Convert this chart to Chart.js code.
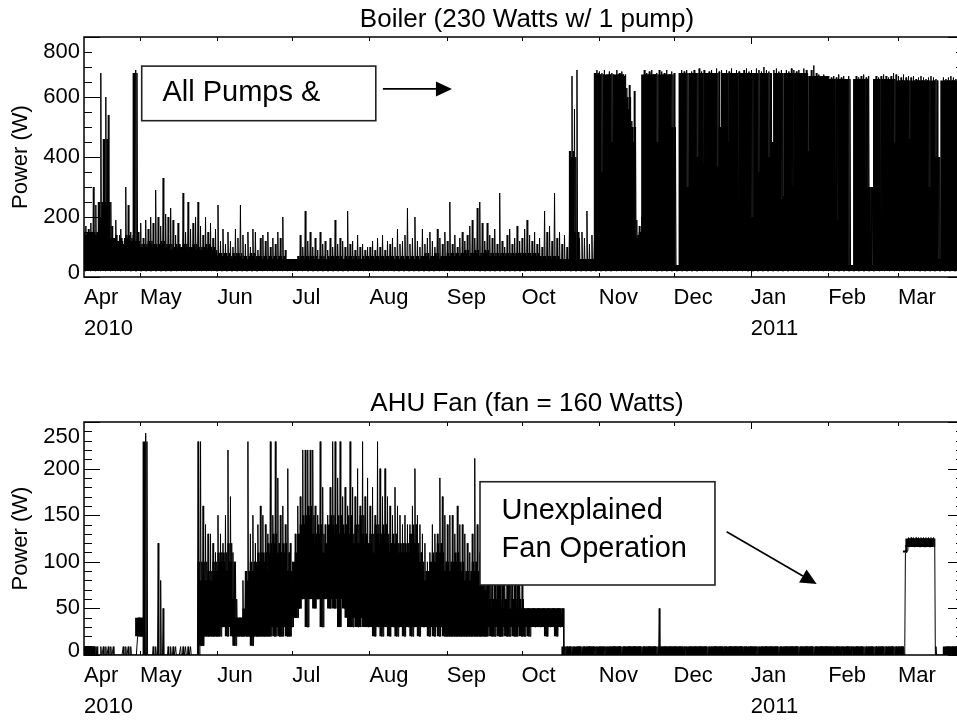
<!DOCTYPE html>
<html>
<head>
<meta charset="utf-8">
<script src="https://cdn.jsdelivr.net/npm/chart.js@4.4.0/dist/chart.umd.min.js"></script>
<style>
  html, body { margin: 0; padding: 0; background: #fff; overflow: hidden; }
  .panel { position: relative; width: 970px; }
  canvas { display: block; }
</style>
</head>
<body>
<div class="panel" style="height:360px"><canvas id="boiler"></canvas></div>
<div class="panel" style="height:361px"><canvas id="fan"></canvas></div>
<script>
// days are counted from 1 Apr 2010; the first sample is 8 Apr 2010
const firstDay = 7;
const monthStarts = [0, 30, 61, 91, 122, 153, 183, 214, 244, 275, 306, 334];
const monthNames = ['Apr', 'May', 'Jun', 'Jul', 'Aug', 'Sep', 'Oct', 'Nov', 'Dec', 'Jan', 'Feb', 'Mar'];
const yearNames = { Apr: '2010', Jan: '2011' };

const boilerTicks = [0, 200, 400, 600, 800];
const fanTicks = [0, 50, 100, 150, 200, 250];

// boiler: lowest level, daily level of the dense cycling, daily peak (W)
const boilerFloor = 20;
const boilerMid = [
  150,150,140,150,150,150,140,250,200,460,250,170,130,120,140,120,130,110,140,130,120,680,120,
  110,100,110,100,120,110,100,110,100,120,110,100,110,90,100,110,90,100,110,100,90,100,110,90,100,90,100,110,90,100,90,
  80,70,80,70,80,70,60,80,70,80,70,60,70,60,80,70,60,70,70,60,70,60,70,60,70,60,70,60,60,60,
  60,60,60,70,60,70,60,70,60,70,60,60,70,60,60,70,60,70,60,70,60,60,70,60,70,60,70,60,60,70,60,
  70,60,70,60,70,60,70,60,70,60,70,60,70,60,70,60,70,60,70,60,70,60,70,80,70,60,70,80,70,60,70,
  70,80,70,80,70,80,70,80,90,80,70,80,90,80,70,80,90,80,70,80,70,80,70,80,70,80,70,80,70,80,
  80,70,80,70,80,70,80,70,70,60,70,60,70,60,70,60,60,60,60,60,420,400,150,60,60,60,60,60,60,60,680,
  675,675,350,675,675,675,450,675,675,675,675,560,600,450,500,140,130,150,675,675,675,675,675,675,450,675,675,675,675,675,
  500,40,40,680,680,680,300,680,680,680,400,680,680,380,680,680,680,680,370,500,680,680,680,450,680,680,680,250,680,680,680,
  680,200,680,680,350,680,680,680,400,450,680,680,680,260,680,680,680,300,680,680,680,680,680,420,670,670,670,670,670,670,670,
  660,660,660,660,190,660,660,660,660,40,40,660,660,660,660,660,300,300,40,660,660,660,210,660,660,660,660,450,
  655,655,655,655,655,460,655,655,655,655,655,655,655,300,655,655,400,60,655,655,655,655,655,655,655,655
];
const boilerPeak = [
  260,170,160,180,300,240,150,680,250,600,540,250,130,190,120,160,110,300,240,150,140,690,150,
  180,130,190,160,200,180,290,200,170,330,210,200,230,190,140,180,100,280,150,250,160,180,200,250,170,140,200,150,180,130,160,
  240,120,160,110,150,120,100,160,130,240,140,110,150,100,160,150,90,130,140,120,150,100,130,110,150,130,200,90,60,60,
  60,60,60,140,100,220,120,150,100,130,90,150,110,120,90,130,100,190,110,130,120,100,220,110,120,90,140,100,110,90,100,
  100,120,90,130,100,140,90,120,110,130,100,160,110,120,140,230,110,130,200,120,100,160,110,130,150,120,100,160,130,110,150,
  120,250,110,140,100,130,150,120,140,170,190,130,230,250,180,120,180,140,130,160,110,280,120,100,140,160,110,130,170,120,
  130,160,190,140,120,150,110,130,100,220,150,170,120,280,130,150,110,140,100,150,670,560,690,130,150,130,220,110,140,120,690,
  685,680,690,675,685,680,670,690,680,685,670,630,640,520,620,190,170,200,690,680,685,690,675,680,690,685,680,690,675,685,
  680,40,40,690,685,690,300,685,690,680,695,685,690,400,685,690,680,695,685,690,680,690,685,695,680,690,685,650,690,695,685,
  690,680,695,690,685,700,690,685,680,690,695,685,690,270,690,685,695,690,685,690,680,695,690,420,690,705,680,675,670,675,670,
  670,665,670,665,675,665,670,660,670,40,40,670,665,670,675,665,670,300,40,670,665,670,675,670,665,670,680,675,
  670,665,675,665,670,665,670,660,665,670,665,660,665,670,665,660,400,60,665,660,665,670,665,660,665,660
];

// AHU fan: daily low, daily level of the dense cycling, daily peak (W)
const fanLo = [
  0,0,0,0,0,0,0,0,0,0,0,0,0,0,0,0,0,0,0,0,0,0,20,
  20,20,0,0,0,0,0,0,0,0,0,0,0,0,0,0,0,0,0,0,0,0,0,0,10,10,20,20,20,20,20,
  20,20,30,30,20,30,20,10,20,20,20,20,20,20,10,20,20,20,20,20,20,20,30,20,30,20,20,30,20,20,
  30,40,40,50,60,60,30,60,60,50,60,60,30,60,60,50,60,50,60,30,60,50,40,30,30,40,30,30,40,30,30,
  30,30,20,30,30,20,30,30,20,30,30,20,30,30,20,30,30,20,30,30,20,30,30,30,20,30,20,30,20,30,20,
  20,20,20,20,20,20,20,20,20,20,20,20,20,20,20,20,20,30,20,20,30,20,20,30,20,20,30,20,20,30,
  20,20,30,20,30,30,30,30,30,30,20,30,30,30,20,30,30,0,0,0,0,0,0,0,0,0,0,0,0,0,0,
  0,0,0,0,0,0,0,0,0,0,0,0,0,0,0,0,0,0,0,0,0,0,0,0,0,0,0,0,0,0,
  0,0,0,0,0,0,0,0,0,0,0,0,0,0,0,0,0,0,0,0,0,0,0,0,0,0,0,0,0,0,0,
  0,0,0,0,0,0,0,0,0,0,0,0,0,0,0,0,0,0,0,0,0,0,0,0,0,0,0,0,0,0,0,
  0,0,0,0,0,0,0,0,0,0,0,0,0,0,0,0,0,0,0,0,0,0,0,0,0,0,0,0,
  0,0,0,110,116,116,116,116,116,116,116,116,116,116,116,0,0,0,0,0,0,0,0,0,0,0
];
const fanMid = [
  9,9,9,9,9,9,0,0,0,0,0,0,0,0,0,0,0,0,0,0,0,0,40,
  40,40,229,0,0,0,0,0,0,0,0,0,0,0,0,0,0,0,0,0,0,0,0,0,100,80,100,80,90,80,100,
  90,110,100,110,90,120,100,60,40,40,40,50,90,80,100,90,100,110,100,110,90,120,110,130,120,110,100,120,110,90,
  80,100,110,130,140,150,140,160,150,130,120,140,130,110,120,140,150,140,130,150,130,140,130,150,130,120,140,120,150,130,120,
  120,130,110,140,130,120,140,130,120,110,130,120,110,120,110,120,110,130,140,120,110,100,90,80,90,100,110,100,120,110,100,
  90,100,90,100,110,90,100,90,80,90,80,100,90,80,90,80,70,77,60,50,77,60,77,50,60,77,50,60,77,50,
  60,50,50,50,50,50,50,50,50,50,50,50,50,50,50,50,50,9,0,9,9,0,9,9,9,0,9,9,9,9,0,
  9,9,9,0,9,9,9,9,9,9,0,9,9,9,9,9,9,9,0,9,9,9,9,9,0,9,9,9,9,9,
  9,9,9,9,9,0,9,9,9,9,9,9,9,9,0,9,9,9,9,9,9,0,9,9,9,9,9,9,9,0,9,
  9,9,9,0,9,9,9,9,9,9,9,9,0,9,9,9,9,9,9,9,0,9,9,9,9,9,0,9,9,9,9,
  9,9,0,9,9,9,0,9,9,9,0,9,9,9,9,0,9,9,9,0,9,9,9,0,9,9,9,0,
  9,9,9,112,125,125,125,125,125,125,125,125,125,125,125,0,0,0,0,9,9,9,9,9,9,9
];
const fanPeak = [
  9,9,9,9,9,9,0,9,9,9,9,9,9,0,0,0,9,9,9,9,0,0,40,
  40,40,238,0,0,9,9,120,80,50,0,9,9,9,9,0,9,9,9,9,9,0,0,229,229,160,140,130,130,120,110,
  150,130,120,150,220,170,110,100,40,40,80,80,229,130,150,120,140,160,150,140,130,229,150,229,190,150,160,140,200,120,
  100,130,160,170,220,220,220,220,220,160,150,229,180,140,150,180,229,229,190,229,170,180,160,229,180,170,200,160,229,170,190,
  160,180,150,229,200,170,200,170,160,150,180,160,150,140,150,140,140,160,200,150,140,130,120,100,110,140,130,130,190,170,150,
  140,150,150,130,160,140,140,130,120,110,130,211,140,110,120,110,77,77,77,77,77,77,77,77,77,77,77,77,77,77,
  77,50,50,50,50,50,50,50,50,50,50,50,50,50,50,50,50,9,9,9,9,0,9,9,9,9,9,9,9,9,9,
  9,9,9,9,9,9,9,9,9,9,9,9,9,9,9,9,9,9,9,9,9,9,9,9,50,9,9,9,9,9,
  9,9,9,9,9,9,9,9,9,9,9,9,9,9,9,9,9,9,9,9,9,9,9,9,9,9,9,9,9,9,9,
  9,9,9,9,9,9,9,9,9,9,9,9,9,9,9,9,9,9,9,9,9,9,9,9,9,9,9,9,9,9,9,
  9,9,9,9,9,9,9,9,9,9,9,9,9,9,9,9,9,9,9,9,9,9,9,9,9,9,9,9,
  9,9,9,118,126,126,126,126,126,126,126,126,126,126,126,9,0,0,0,9,9,9,9,9,9,9
];

const FONT = '"Liberation Sans", Arial, Helvetica, sans-serif';

const valueAt = (v, i) => (Array.isArray(v) ? v[i] : v);

// four turns a day: low, peak, low, dense level
const trace = (lo, mid, peak) => {
  const pts = [];
  peak.forEach((p, i) => {
    const d = firstDay + i;
    const l = valueAt(lo, i);
    pts.push({ x: d, y: l }, { x: d + 0.25, y: p }, { x: d + 0.5, y: l }, { x: d + 0.75, y: mid[i] });
  });
  return pts;
};

// one step per day, for the solid part between the daily low and the dense level
const steps = (v, n) => {
  const pts = [];
  for (let i = 0; i < n; i++) pts.push({ x: firstDay + i, y: valueAt(v, i) });
  pts.push({ x: firstDay + n, y: valueAt(v, n - 1) });
  return pts;
};

const xScale = (height) => ({
  type: 'linear', min: 7.5, max: 360.5,
  grid: { display: false, drawTicks: false },
  border: { display: false },
  afterBuildTicks: (s) => {
    s.ticks = [{ value: 7.5 }].concat(monthStarts.slice(1).map(v => ({ value: v })));
  },
  afterFit: (s) => { s.height = height; },
  ticks: {
    autoSkip: false, maxRotation: 0, minRotation: 0, align: 'start', padding: 6, color: '#000',
    font: { family: FONT, size: 22, lineHeight: 1.4 },
    callback: (v, i) => yearNames[monthNames[i]] ? [monthNames[i], yearNames[monthNames[i]]] : monthNames[i]
  }
});

const framePlugin = {
  id: 'frame',
  afterDatasetsDraw(chart, args, o) {
    const { ctx, chartArea: a, scales: { x, y } } = chart;
    ctx.save();
    ctx.strokeStyle = '#000';
    ctx.lineWidth = 1;
    ctx.beginPath();
    for (let v = 0; v <= o.ticks[o.ticks.length - 1]; v += o.minor) {
      const len = o.ticks.includes(v) ? 16 : 8;
      const py = Math.round(y.getPixelForValue(v)) + 0.5;
      ctx.moveTo(a.left, py); ctx.lineTo(a.left + len, py);
      ctx.moveTo(a.right, py); ctx.lineTo(a.right - len, py);
    }
    monthStarts.slice(1).forEach(d => {
      const px = Math.round(x.getPixelForValue(d)) + 0.5;
      const len = d === 275 ? 7 : 4;
      ctx.moveTo(px, a.bottom); ctx.lineTo(px, a.bottom - len);
      ctx.moveTo(px, a.top); ctx.lineTo(px, a.top + len);
    });
    ctx.stroke();
    ctx.lineWidth = 1.5;
    ctx.strokeRect(a.left, a.top, a.right - a.left, a.bottom - a.top);

    // note box and arrow
    const n = o.note;
    const bx1 = x.getPixelForValue(n.box[0]), bx2 = x.getPixelForValue(n.box[1]);
    const by1 = y.getPixelForValue(n.box[2]), by2 = y.getPixelForValue(n.box[3]);
    ctx.fillStyle = '#fff';
    ctx.fillRect(bx1, by1, bx2 - bx1, by2 - by1);
    ctx.strokeStyle = '#222';
    ctx.lineWidth = 1.6;
    ctx.strokeRect(bx1, by1, bx2 - bx1, by2 - by1);
    ctx.fillStyle = '#000';
    ctx.font = `29px ${FONT}`;
    ctx.textAlign = 'left';
    ctx.textBaseline = 'middle';
    n.lines.forEach((t, i) => ctx.fillText(t, x.getPixelForValue(n.textX), y.getPixelForValue(n.textY[i])));

    const ax1 = x.getPixelForValue(n.arrow[0]), ay1 = y.getPixelForValue(n.arrow[1]);
    const ax2 = x.getPixelForValue(n.arrow[2]), ay2 = y.getPixelForValue(n.arrow[3]);
    const ang = Math.atan2(ay2 - ay1, ax2 - ax1);
    const hl = 16, hw = 7.5;
    const bxh = ax2 - hl * Math.cos(ang), byh = ay2 - hl * Math.sin(ang);
    ctx.strokeStyle = '#000';
    ctx.beginPath();
    ctx.moveTo(ax1, ay1); ctx.lineTo(bxh, byh);
    ctx.stroke();
    ctx.beginPath();
    ctx.moveTo(ax2, ay2);
    ctx.lineTo(bxh + hw * Math.sin(ang), byh - hw * Math.cos(ang));
    ctx.lineTo(bxh - hw * Math.sin(ang), byh + hw * Math.cos(ang));
    ctx.closePath();
    ctx.fill();
    ctx.restore();
  },
  afterDraw(chart, args, o) {
    const { ctx, chartArea: a, scales: { y } } = chart;
    ctx.save();
    ctx.fillStyle = '#000';
    ctx.font = `22px ${FONT}`;
    ctx.textAlign = 'right';
    ctx.textBaseline = 'middle';
    o.ticks.forEach(v => {
      const py = Math.min(Math.max(y.getPixelForValue(v), a.top + 15), a.bottom - 4.5);
      ctx.fillText(String(v), a.left - 4, py);
    });
    ctx.save();
    ctx.translate(21, (a.top + a.bottom) / 2);
    ctx.rotate(-Math.PI / 2);
    ctx.textAlign = 'center';
    ctx.fillText('Power (W)', 0, 0);
    ctx.restore();
    ctx.font = `26px ${FONT}`;
    ctx.textAlign = 'center';
    ctx.fillText(o.title, (a.left + a.right) / 2 + 3, o.titleY);
    ctx.restore();
  }
};

const makeChart = (id, lo, mid, peak, top, axisHeight, yMax, frame) => new Chart(document.getElementById(id), {
  type: 'line',
  data: {
    datasets: [{
      data: trace(lo, mid, peak),
      borderColor: '#000',
      borderWidth: 1,
      borderJoinStyle: 'bevel',
      pointRadius: 0,
      tension: 0,
      fill: false
    }, {
      data: steps(mid, peak.length),
      stepped: 'after',
      borderColor: 'rgba(0,0,0,0)',
      backgroundColor: '#000',
      pointRadius: 0,
      fill: '+1'
    }, {
      data: steps(lo, peak.length),
      stepped: 'after',
      borderColor: 'rgba(0,0,0,0)',
      pointRadius: 0,
      fill: false
    }]
  },
  options: {
    responsive: true,
    maintainAspectRatio: false,
    animation: false,
    events: [],
    layout: { padding: { left: 84, right: 6, top: top, bottom: 0 } },
    scales: {
      x: xScale(axisHeight),
      y: { display: false, min: 0, max: yMax }
    },
    plugins: { legend: { display: false }, tooltip: { enabled: false }, frame: frame }
  },
  plugins: [framePlugin]
});

makeChart('boiler', boilerFloor, boilerMid, boilerPeak, 37, 83, 800, {
  ticks: boilerTicks, minor: 50,
  title: 'Boiler (230 Watts w/ 1 pump)', titleY: 19.5,
  note: {
    box: [30.65, 124.55, 703, 521],
    lines: ['All Pumps &'], textX: 38.95, textY: [613],
    arrow: [127.4, 627, 155.1, 627]
  }
});

makeChart('fan', fanLo, fanMid, fanPeak, 62, 66, 250, {
  ticks: fanTicks, minor: 10,
  title: 'AHU Fan (fan = 160 Watts)', titleY: 43.8,
  note: {
    box: [166.35, 260.6, 185.9, 75.1],
    lines: ['Unexplained', 'Fan Operation'], textX: 175.0, textY: [154.7, 113.5],
    arrow: [265.3, 132.3, 301.4, 76.2]
  }
});
</script>
</body>
</html>
